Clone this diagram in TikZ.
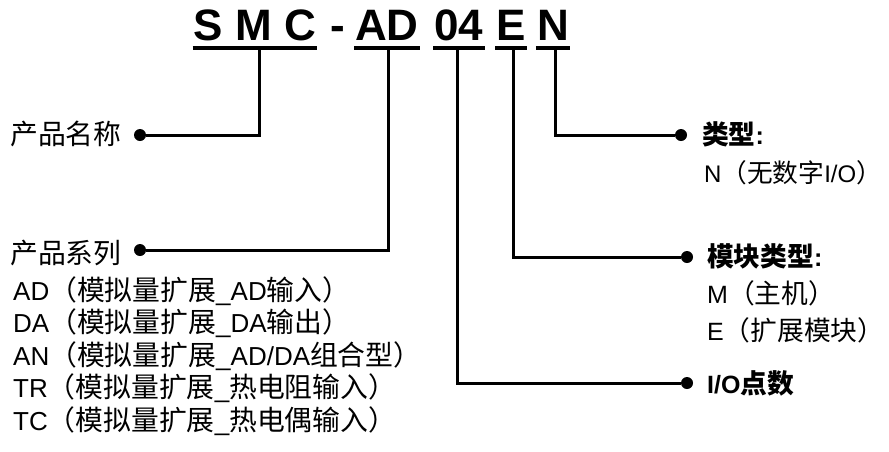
\documentclass[tikz,border=0pt]{standalone}
\usepackage{fontspec}
\setmainfont{Liberation Sans}
\newfontfamily\cjk[Scale=1.07]{Noto Sans CJK SC}
\newcommand{\zh}[1]{{\cjk #1}}
\begin{document}
\begin{tikzpicture}[x=1pt,y=-1pt,
  title/.style={font=\fontsize{44}{44}\selectfont\bfseries, inner sep=0pt, anchor=base},
  lbl/.style={font=\fontsize{26}{30}\selectfont, inner sep=0pt, anchor=base west},
  rlbl/.style={font=\fontsize{25}{30}\selectfont, inner sep=0pt, anchor=base west},
  dotn/.style={circle, fill=black, inner sep=0pt, minimum size=12pt},
  ln/.style={line width=3pt},
  ul/.style={line width=3.2pt}]
\fill[white] (0,0) rectangle (889,451);
\useasboundingbox (0,0) rectangle (889,451);

% title
\node[title] (t1) at (255,40) {S M C};
\node[title] (t2) at (338,40) {-};
\node[title] (t3) at (387,40) {AD};
\node[title] (t4) at (459,40) {04};
\node[title] (t5) at (511,40) {E};
\node[title] (t6) at (553,40) {N};
\foreach \t in {t1,t3,t4,t5,t6}
  \draw[ul] ([shift={(-1,8)}]\t.base west) -- ([shift={(1,8)}]\t.base east);

\coordinate (u1) at (259,48);
\coordinate (u3) at (388,48);
\coordinate (u4) at (457,48);
\coordinate (u5) at (513,48);
\coordinate (u6) at (555,48);

% dots
\node[dotn] (d1) at (140,135) {};
\node[dotn] (d2) at (140,250) {};
\node[dotn] (d6) at (681,135) {};
\node[dotn] (d5) at (687,257) {};
\node[dotn] (d4) at (687,383) {};

% connectors
\draw[ln] (u1) |- (d1);
\draw[ln] (u3) |- (d2);
\draw[ln] (u6) |- (d6);
\draw[ln] (u5) |- (d5);
\draw[ln] (u4) |- (d4);

% left labels
\node[lbl] (l1) at (10,144) {\zh{产品名称}};
\node[lbl] (l2) at (10,263) {\zh{产品系列}};
\node[lbl] (s1) at (13,300) {AD\zh{（模拟量扩展}\_AD\zh{输入）}};
\node[lbl] (s2) at (13,332) {DA\zh{（模拟量扩展}\_DA\zh{输出）}};
\node[lbl] (s3) at (13,365) {AN\zh{（模拟量扩展}\_AD/DA\zh{组合型）}};
\node[lbl] (s4) at (13,397) {TR\zh{（模拟量扩展}\_\zh{热电阻输入）}};
\node[lbl] (s5) at (13,430) {TC\zh{（模拟量扩展}\_\zh{热电偶输入）}};

% right labels
\node[rlbl] (r6) at (702,144) {\zh{\bfseries 类型}\textbf{:}};
\node[rlbl, font=\fontsize{24}{30}\selectfont] (r6b) at (704,182) {N\zh{（无数字}I/O\zh{）}};
\node[rlbl] (r5) at (707,266) {\zh{\bfseries 模块类型}\textbf{:}};
\node[rlbl] (r5b) at (707,303) {M\zh{（主机）}};
\node[rlbl] (r5c) at (707,340) {E\zh{（扩展模块）}};
\node[rlbl] (r4) at (707,393) {\textbf{I/O}\zh{\bfseries 点数}};
\end{tikzpicture}
\end{document}
